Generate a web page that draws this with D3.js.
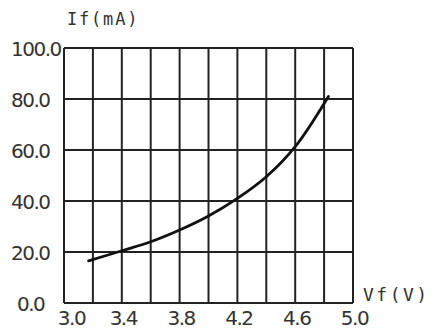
<!DOCTYPE html>
<html>
<head>
<meta charset="utf-8">
<script src="https://cdn.jsdelivr.net/npm/d3@7"></script>
<style>
  body { margin: 0; background: #fff; }
  svg text { font-family: "DejaVu Sans", sans-serif; fill: #333; }
  svg text.unit { font-family: "DejaVu Sans Mono", monospace; }
</style>
</head>
<body>
<div id="chart"></div>
<script>
const vf = [3.17, 3.4, 3.6, 3.8, 4.0, 4.2, 4.4, 4.6, 4.83];
const ifma = [16.5, 20.5, 24, 28.6, 34.1, 41, 49.5, 61.3, 81];
const xTickLabels = [3.0, 3.4, 3.8, 4.2, 4.6, 5.0];
const yTickLabels = [0, 20, 40, 60, 80, 100];

const width = 435,
  height = 331,
  padding = {top: 48, right: 82, bottom: 28, left: 64};

const x = d3.scaleLinear()
  .domain([3.0, 5.0])
  .range([padding.left, width - padding.right]);
const y = d3.scaleLinear()
  .domain([0, 100])
  .range([height - padding.bottom, padding.top]);

const svg = d3.select('#chart')
  .append('svg')
  .attr('width', width)
  .attr('height', height);

// grid: vertical every 0.2 V, horizontal every 20 mA
const grid = svg.append('g').attr('stroke', '#222').attr('stroke-width', 2);
grid.selectAll('line.v')
  .data(d3.range(0, 11).map(i => 3.0 + i * 0.2))
  .enter().append('line')
  .attr('class', 'v')
  .attr('x1', d => x(d)).attr('x2', d => x(d))
  .attr('y1', y(0)).attr('y2', y(100));
grid.selectAll('line.h')
  .data(yTickLabels)
  .enter().append('line')
  .attr('class', 'h')
  .attr('x1', x(3.0)).attr('x2', x(5.0))
  .attr('y1', d => y(d)).attr('y2', d => y(d));

// tick labels via d3 axes, no domain/tick lines
const xAxis = svg.append('g')
  .attr('transform', `translate(0,${y(0)})`)
  .call(d3.axisBottom(x).tickValues(xTickLabels).tickFormat(d3.format('.1f')).tickSize(0).tickPadding(8));
xAxis.select('.domain').remove();
xAxis.selectAll('text')
  .style('font-size', '20px')
  .attr('letter-spacing', '-1.5')
  .attr('fill', '#333')
  .attr('dx', d => d === 3.0 ? 7 : 1);

const yAxis = svg.append('g')
  .attr('transform', `translate(${x(3.0)},0)`)
  .call(d3.axisLeft(y).tickValues(yTickLabels).tickFormat(d3.format('.1f')).tickSize(0));
yAxis.select('.domain').remove();
yAxis.selectAll('text')
  .style('font-size', '20px')
  .attr('letter-spacing', '-1.5')
  .attr('fill', '#333')
  .attr('text-anchor', 'start')
  .attr('x', d => (d === 0 ? 17 : 11) - x(3.0))
  .attr('dy', '0.36em');

svg.append('text')
  .attr('class', 'unit')
  .attr('x', 67).attr('y', 25)
  .style('font-size', '17px')
  .attr('letter-spacing', '1.8')
  .text('If(mA)');

svg.append('text')
  .attr('class', 'unit')
  .attr('x', 363).attr('y', 301)
  .style('font-size', '18px')
  .attr('letter-spacing', '2.5')
  .text('Vf(V)');

const line = d3.line()
  .x((d, i) => x(vf[i]))
  .y(d => y(d))
  .curve(d3.curveCatmullRom);

svg.append('path')
  .datum(ifma)
  .attr('fill', 'none')
  .attr('stroke', '#111')
  .attr('stroke-width', 2.8)
  .attr('stroke-linecap', 'round')
  .attr('d', line);
</script>
</body>
</html>
